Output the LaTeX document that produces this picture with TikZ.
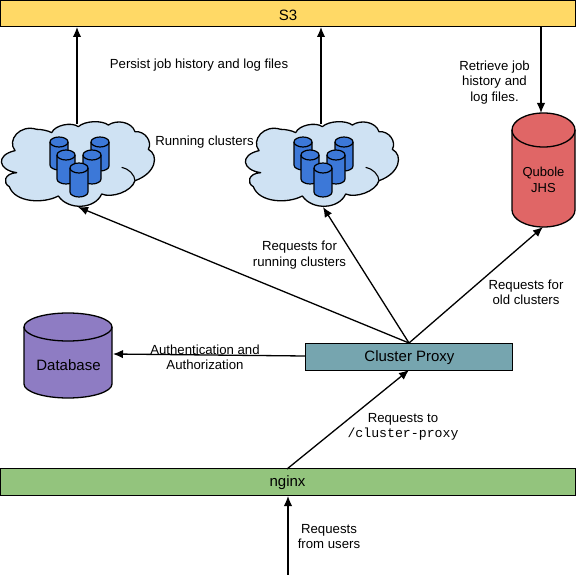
\documentclass[tikz,border=0pt]{standalone}
\usepackage{fontspec}
\setmainfont{Liberation Sans}
\setmonofont{Liberation Mono}
\usetikzlibrary{arrows.meta}
\tikzset{
  box/.style={draw=black,line width=1pt,inner sep=0pt,outer sep=0pt,font=\fontsize{15}{17}\selectfont},
  conn/.style={draw=black,line width=1.3pt,-{Latex[length=10pt,width=8.5pt]}},
  lbl/.style={align=center,inner sep=0pt,font=\fontsize{13.2}{15.5}\selectfont},
  cyltext/.style={align=center,inner sep=0pt},
}
\definecolor{cloudfill}{HTML}{CFE2F3}
\definecolor{smallcyl}{HTML}{3C78D8}
\definecolor{dbfill}{HTML}{8E7CC3}
\definecolor{jhsfill}{HTML}{E06666}
\definecolor{sthree}{HTML}{FFD966}
\definecolor{proxyfill}{HTML}{76A5AF}
\definecolor{nginxfill}{HTML}{93C47D}
% centre x, top y, radius x, radius y, bottom y, colour, line width
\newcommand{\cylshape}[7]{%
  \draw[fill=#6,line width=#7,line join=round]
    (#1-#3,#2+#4) arc[start angle=180,end angle=0,x radius=#3,y radius=-#4]
    -- (#1+#3,#5-#4) arc[start angle=0,end angle=-180,x radius=#3,y radius=-#4] -- cycle;
  \draw[line width=#7] (#1-#3,#2+#4) arc[start angle=180,end angle=360,x radius=#3,y radius=-#4];
}
\newcommand{\cloudshape}[1]{%
\begin{scope}[xshift=#1pt]
  \begin{scope}[shift={(0,90)},x=0.33333pt,y=-0.33333pt]
  \draw[fill=cloudfill,line width=1.3pt,line join=round]
    (155,128) .. controls (165,105) and (215,95) .. (235,110)
    .. controls (255,92) and (305,90) .. (325,105)
    .. controls (350,88) and (395,95) .. (405,125)
    .. controls (435,122) and (458,155) .. (445,178)
    .. controls (478,195) and (468,250) .. (405,272)
    .. controls (395,305) and (335,325) .. (305,312)
    .. controls (285,358) and (205,362) .. (175,318)
    .. controls (130,342) and (45,338) .. (28,290)
    .. controls (8,280) and (12,250) .. (50,248)
    .. controls (-6,240) and (-14,195) .. (45,182)
    .. controls (20,150) and (60,102) .. (110,118)
    .. controls (125,118) and (145,122) .. cycle;
  \draw[line width=1.1pt] (405,272) .. controls (405,255) and (385,235) .. (365,232);
  \end{scope}
  \cylshape{59}{137}{9}{5}{170}{smallcyl}{1.2pt}
  \cylshape{100}{137}{9}{5}{171}{smallcyl}{1.2pt}
  \cylshape{66}{150}{9}{5}{184}{smallcyl}{1.2pt}
  \cylshape{92}{150}{9}{5}{184}{smallcyl}{1.2pt}
  \cylshape{79}{163}{9}{5}{197}{smallcyl}{1.2pt}
\end{scope}}
\begin{document}
\begin{tikzpicture}[x=1pt,y=-1pt]
\useasboundingbox (0,0) rectangle (576,575);
\node[box,fill=sthree,minimum width=575pt,minimum height=26.5pt] (s3) at (288,13.75) {};
\node[box,fill=proxyfill,minimum width=207pt,minimum height=27pt] (proxy) at (408.5,356.5) {};
\node[box,fill=nginxfill,minimum width=575pt,minimum height=27pt] (nginx) at (288,482) {};
\node[font=\fontsize{15}{17}\selectfont,inner sep=0pt] (s3t) at (288,15) {S3};
\node[font=\fontsize{15}{17}\selectfont,inner sep=0pt] (proxyt) at (409.5,357.5) {Cluster Proxy};
\node[font=\fontsize{15}{17}\selectfont,inner sep=0pt] (nginxt) at (287.5,483) {nginx};
\cloudshape{0}
\cloudshape{244}
\cylshape{68}{313}{44}{14}{398}{dbfill}{1.3pt}
\cylshape{543.5}{113}{31.5}{17}{227}{jhsfill}{1.3pt}
\node[cyltext,font=\fontsize{15}{17}\selectfont] (db) at (68.5,365) {Database};
\node[cyltext,font=\fontsize{13}{15.5}\selectfont] (jhs) at (543.5,180) {Qubole\\JHS};
\coordinate (cloudAtop) at (77,124);
\coordinate (cloudBtop) at (321,124);
\coordinate (cloudAbot) at (78,207);
\coordinate (cloudBbot) at (323,207);
\coordinate (jhstop) at (541,113);
\coordinate (jhsbot) at (543,227);
\coordinate (dbright) at (113,354);
\coordinate (s3a) at (77,27);
\coordinate (s3b) at (321,27);
\coordinate (s3c) at (541,27);
\coordinate (proxytop) at (409,343);
\coordinate (proxyleft) at (305,356);
\coordinate (proxybot) at (409,370);
\coordinate (nginxtop) at (287,469);
\coordinate (nginxbot) at (288,496);
\coordinate (users) at (288,575);
\draw[conn] (cloudAtop) -- (s3a);
\draw[conn] (cloudBtop) -- (s3b);
\draw[conn] (s3c) -- (jhstop);
\draw[conn] (proxytop) -- (cloudAbot);
\draw[conn] (proxytop) -- (cloudBbot);
\draw[conn] (proxytop) -- (jhsbot);
\draw[conn] (proxyleft) -- (dbright);
\draw[conn] (nginxtop) -- (proxybot);
\draw[conn] (users) -- (nginxbot);
\node[lbl] (t1) at (199,65) {Persist job history and log files};
\node[lbl] (t2) at (204.5,142) {Running clusters};
\node[lbl] (t3) at (494.5,82.5) {Retrieve job\\history and\\log files.};
\node[lbl] (t4) at (299.5,255) {Requests for\\running clusters};
\node[lbl] (t5) at (526,292.5) {Requests for\\old clusters};
\node[lbl] (t6) at (205,357.5) {Authentication and\\Authorization};
\node[lbl] (t7) at (403,427) {Requests to\\{\ttfamily /cluster-proxy}};
\node[lbl] (t8) at (329,536.5) {Requests\\from users};
\end{tikzpicture}
\end{document}
